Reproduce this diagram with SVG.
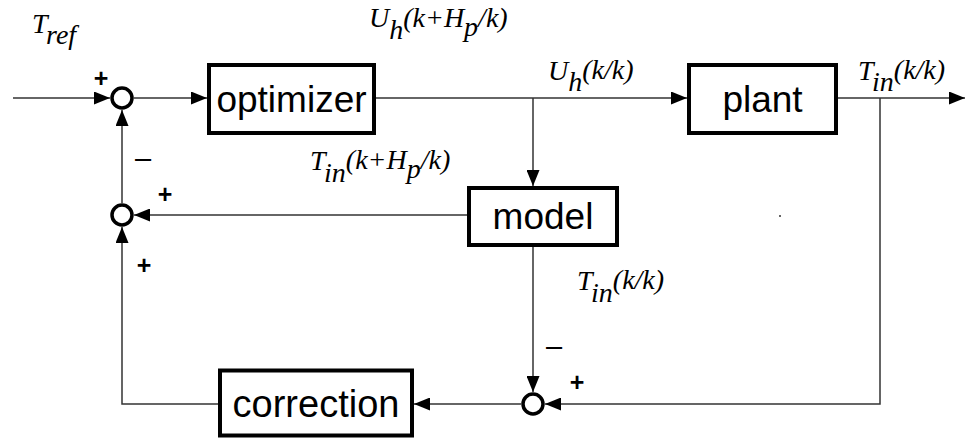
<svg xmlns="http://www.w3.org/2000/svg" width="965" height="438" viewBox="0 0 965 438">
<style>
.box{fill:#fff;stroke:#000;stroke-width:4}
.sum{fill:#fff;stroke:#000;stroke-width:3.5}
.lbl{font-family:"Liberation Sans",Arial,sans-serif;font-size:37px;fill:#000;text-anchor:middle}
.m{font-family:"Liberation Serif","Times New Roman",serif;font-style:italic;font-size:28px;fill:#000}
.sg{font-family:"Liberation Sans",Arial,sans-serif;font-size:25px;font-weight:bold;fill:#000;text-anchor:middle}
.mn{font-family:"Liberation Sans",Arial,sans-serif;font-size:29px;fill:#000;text-anchor:middle}
.c{fill:none;stroke:#333;stroke-width:1.5}
</style>
<defs>
<marker id="ah" markerUnits="userSpaceOnUse" markerWidth="16" markerHeight="13" refX="16" refY="6.5" orient="auto">
<path d="M0,0 L16,6.5 L0,13 z" fill="#000"/>
</marker>
</defs>
<g id="connectors">
<path class="c" d="M13,98 H110" marker-end="url(#ah)"/>
<path class="c" d="M133.75,98 H207" marker-end="url(#ah)"/>
<path class="c" d="M376,98 H687" marker-end="url(#ah)"/>
<path class="c" d="M533,98 V186" marker-end="url(#ah)"/>
<path class="c" d="M838,98 H965" marker-end="url(#ah)"/>
<path class="c" d="M880,98 V404 H545" marker-end="url(#ah)"/>
<path class="c" d="M533,247 V392" marker-end="url(#ah)"/>
<path class="c" d="M521,404 H414" marker-end="url(#ah)"/>
<path class="c" d="M218,404 H122 V227" marker-end="url(#ah)"/>
<path class="c" d="M467,215 H134" marker-end="url(#ah)"/>
<path class="c" d="M122,203 V110" marker-end="url(#ah)"/>
</g>
<g id="sum1"><circle class="sum" cx="122" cy="98" r="10"/></g>
<g id="sum2"><circle class="sum" cx="122" cy="215" r="10"/></g>
<g id="sum3"><circle class="sum" cx="533" cy="404" r="10"/></g>
<g id="optimizer"><rect class="box" x="209" y="65" width="165" height="68"/><text class="lbl" x="291.5" y="112">optimizer</text></g>
<g id="plant"><rect class="box" x="689" y="65" width="147" height="68"/><text class="lbl" x="762.5" y="112">plant</text></g>
<g id="model"><rect class="box" x="469" y="188" width="148" height="57"/><text class="lbl" x="543" y="229">model</text></g>
<g id="correction"><rect class="box" x="220" y="370.5" width="192" height="65"/><text class="lbl" x="316" y="417" style="font-size:38px">correction</text></g>
<g id="signs">
<text class="sg" x="101" y="87">+</text>
<text class="mn" x="143" y="168">–</text>
<text class="sg" x="165" y="203">+</text>
<text class="sg" x="144" y="274">+</text>
<text class="mn" x="554" y="356">–</text>
<text class="sg" x="577" y="391">+</text>
</g>
<g id="labels">
<text class="m" x="32" y="33">T<tspan dy="11">ref</tspan></text>
<text class="m" x="369" y="27">U<tspan dy="12">h</tspan><tspan dy="-12">(k+H</tspan><tspan dy="9">p</tspan><tspan dy="-9">/k)</tspan></text>
<text class="m" x="548" y="80">U<tspan dy="11">h</tspan><tspan dy="-12">(k/k)</tspan></text>
<text class="m" x="858" y="80">T<tspan dy="11">in</tspan><tspan dy="-12">(k/k)</tspan></text>
<text class="m" x="310" y="170">T<tspan dy="12">in</tspan><tspan dy="-13">(k+H</tspan><tspan dy="9">p</tspan><tspan dy="-9">/k)</tspan></text>
<text class="m" x="577" y="290">T<tspan dy="12">in</tspan><tspan dy="-13">(k/k)</tspan></text>
</g>
<rect x="779" y="215" width="2" height="2" fill="#666"/>
</svg>
